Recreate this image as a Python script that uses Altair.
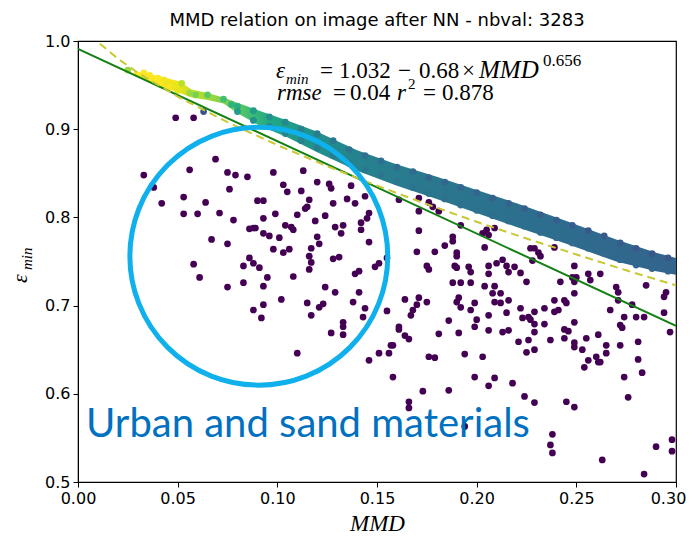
import altair as alt
import pandas as pd

# ---------------- data ----------------
# purple scattered points (MMD, eps_min)
sx = [.033,.049,.058,.069,.056,.038,.075,.079,.085,.098,.113,.076,.103,.105,.112,.120,.126,.127,.137,.042,
      .053,.064,.090,.093,.116,.135,.139,.128,.144,.053,.060,.071,.078,.093,.099,.110,.114,.115,.119,.124,
      .146,.145,.142,.086,.088,.089,.093,.096,.104,.107,.108,.101,.129,.133,.132,.142,.120,.067,.075,.121,
      .117,.098,.103,.106,.146,.116,.117,.116,.128,.131,.151,.149,.058,.083,.086,.088,.091,.061,.075,.083,
      .093,.095,.108,.124,.129,.139,.141,.141,.155,.102,.115,.117,.121,.123,.138,.144,.143,.155,.088,.093,
      .092,.127,.133,.133,.133,.110,.146,.151,.156,.157,.161,.171,.171,.176,.178,.181,.171,.192,.203,.205,
      .209,.206,.188,.188,.184,.179,.170,.190,.190,.204,.227,.229,.231,.232,.239,.228,.249,.175,.176,.189,
      .190,.196,.197,.206,.210,.213,.215,.219,.222,.216,.206,.256,.262,.248,.250,.249,.257,.225,.242,.270,
      .271,.285,.295,.294,.188,.192,.197,.204,.209,.208,.212,.216,.212,.209,.215,.222,.229,.234,.223,.226,
      .227,.239,.239,.244,.245,.249,.241,.249,.244,.246,.244,.267,.271,.278,.274,.280,.284,.294,.297,.272,
      .273,.281,.272,.265,.265,.261,.255,.249,.249,.253,.256,.260,.261,.262,.254,.281,.283,.274,.276,.237,
      .229,.229,.225,.226,.221,.234,.229,.206,.200,.199,.206,.213,.216,.191,.190,.192,.197,.199,.186,.191,
      .181,.194,.203,.176,.179,.166,.164,.161,.161,.158,.167,.168,.170,.171,.164,.175,.199,.209,.206,.218,
      .224,.229,.186,.173,.158,.245,.249,.166,.166,.194,.238,.237,.238,.263,.290,.298,.298,.284]
sy = [.848,.913,.913,.866,.854,.834,.851,.848,.846,.851,.853,.832,.837,.829,.830,.840,.838,.833,.836,.816,
      .823,.817,.819,.819,.820,.821,.816,.816,.824,.804,.804,.805,.797,.799,.804,.803,.810,.812,.796,.802,
      .805,.799,.794,.787,.788,.788,.782,.779,.791,.789,.786,.777,.789,.791,.782,.786,.778,.775,.770,.770,
      .765,.764,.760,.764,.772,.756,.749,.741,.753,.755,.748,.744,.747,.745,.754,.748,.743,.732,.721,.726,
      .722,.732,.733,.721,.715,.736,.739,.715,.754,.707,.703,.689,.698,.702,.704,.697,.687,.694,.695,.701,
      .686,.669,.676,.681,.667,.646,.638,.646,.646,.655,.820,.807,.822,.817,.812,.807,.785,.791,.782,.786,
      .788,.780,.778,.773,.768,.761,.761,.760,.756,.766,.765,.765,.760,.756,.766,.751,.745,.745,.741,.745,
      .743,.744,.738,.745,.748,.752,.745,.744,.737,.738,.736,.736,.736,.732,.732,.727,.729,.727,.727,.721,
      .715,.723,.715,.710,.726,.726,.726,.722,.722,.714,.714,.706,.703,.704,.692,.697,.693,.697,.686,.687,
      .684,.706,.693,.706,.703,.714,.695,.681,.673,.671,.663,.695,.706,.701,.687,.687,.687,.692,.670,.678,
      .675,.659,.655,.655,.646,.667,.663,.658,.653,.650,.638,.642,.636,.636,.630,.639,.624,.619,.596,.661,
      .670,.650,.647,.661,.659,.679,.679,.689,.684,.676,.672,.670,.672,.709,.704,.698,.695,.703,.683,.669,
      .668,.645,.642,.642,.641,.662,.666,.673,.676,.655,.689,.695,.701,.709,.707,.704,.619,.618,.609,.612,
      .597,.590,.604,.603,.619,.591,.585,.591,.584,.563,.554,.542,.533,.525,.540,.548,.535,.509]

# dense band (upper and lower edge)
band_x   = [0.028, 0.035, 0.043, 0.051, 0.057, 0.065, 0.073, 0.080, 0.092, 0.105, 0.120, 0.140, 0.160, 0.180, 0.200, 0.220, 0.245, 0.270, 0.290, 0.300]
band_top = [0.966, 0.963, 0.959, 0.954, 0.945, 0.941, 0.936, 0.930, 0.920, 0.910, 0.897, 0.876, 0.860, 0.846, 0.831, 0.816, 0.796, 0.775, 0.760, 0.754]
band_bot = [0.962, 0.955, 0.947, 0.941, 0.936, 0.933, 0.929, 0.918, 0.903, 0.891, 0.874, 0.853, 0.836, 0.821, 0.805, 0.789, 0.770, 0.750, 0.739, 0.735]

# band points on the edges and the sparse left end (x, y, colour value)
edge_x = [0.080,0.088,0.096,0.104,0.112,0.120,0.128,0.136,0.144,0.152,0.160,0.168,0.176,0.184,0.192,0.200,0.208,0.216,0.224,0.232,0.240,0.248,0.256,0.264,0.272,0.280,0.288,0.296,
          0.080,0.088,0.096,0.104,0.112,0.120,0.128,0.136,0.144,0.152,0.160,0.168,0.176,0.184,0.192,0.200,0.208,0.216,0.224,0.232,0.240,0.248,0.256,0.264,0.272,0.280,0.288,0.296,
          0.025,0.033,0.036,0.040,0.043,0.046,0.049,0.050,0.035,0.041,0.045,0.052,0.056,0.059,0.065,0.073,0.077,0.063]
edge_y = [0.926,0.921,0.914,0.908,0.900,0.895,0.887,0.877,0.870,0.864,0.857,0.852,0.845,0.840,0.834,0.828,0.822,0.816,0.810,0.803,0.797,0.791,0.785,0.779,0.771,0.765,0.759,0.754,
          0.920,0.910,0.903,0.895,0.887,0.879,0.870,0.861,0.854,0.848,0.841,0.834,0.827,0.821,0.814,0.808,0.802,0.796,0.790,0.783,0.777,0.771,0.765,0.759,0.752,0.746,0.742,0.739,
          0.967,0.964,0.961,0.958,0.956,0.952,0.948,0.944,0.958,0.951,0.947,0.952,0.941,0.939,0.939,0.934,0.928,0.920]
edge_c = [0.62,0.55,0.50,0.47,0.44,0.42,0.40,0.38,0.37,0.36,0.35,0.34,0.33,0.33,0.32,0.32,0.31,0.31,0.30,0.30,0.29,0.29,0.28,0.28,0.28,0.27,0.27,0.27,
          0.55,0.50,0.47,0.45,0.43,0.42,0.41,0.40,0.40,0.39,0.39,0.38,0.38,0.37,0.37,0.37,0.36,0.36,0.36,0.35,0.35,0.35,0.34,0.34,0.34,0.33,0.33,0.33,
          0.85,1.00,1.00,1.00,0.98,0.98,0.97,0.96,1.00,1.00,0.99,0.90,0.85,0.80,0.75,0.70,0.65,0.25]

# fitted power curve and linear fit
fit_x = [0.011, 0.02, 0.03, 0.05, 0.075, 0.10, 0.125, 0.15, 0.175, 0.20, 0.225, 0.25, 0.275, 0.30]
fit_y = [0.997, 0.980, 0.964, 0.937, 0.908, 0.882, 0.858, 0.836, 0.815, 0.795, 0.776, 0.758, 0.740, 0.723]
lin_x = [0.0, 0.30]
lin_y = [0.991, 0.677]

x_ticks = [0.00, 0.05, 0.10, 0.15, 0.20, 0.25, 0.30]
y_ticks = [0.5, 0.6, 0.7, 0.8, 0.9, 1.0]

title_text = "MMD relation on image after NN - nbval: 3283"
note_text = "Urban and sand materials"
circle_center = [0.0907, 0.756]

# ---------------- chart ----------------
scat = pd.DataFrame({"x": sx, "y": sy})
band = pd.DataFrame({"x": band_x, "top": band_top, "bot": band_bot})
edges = pd.DataFrame({"x": edge_x, "y": edge_y, "c": edge_c})
fit = pd.DataFrame({"x": fit_x, "y": fit_y})
lin = pd.DataFrame({"x": lin_x, "y": lin_y})
circ = pd.DataFrame({"x": [circle_center[0]], "y": [circle_center[1]]})

xsc = alt.Scale(domain=[0, 0.3], nice=False, zero=False)
ysc = alt.Scale(domain=[0.5, 1.0], nice=False, zero=False)
xax = alt.Axis(values=x_ticks, format=".2f", title="MMD", grid=False, labelFlush=False,
               labelOffset=alt.condition("datum.value >= 0.299", alt.value(-8), alt.value(0)))
yax = alt.Axis(values=y_ticks, format=".1f", title="", grid=False, labelFlush=False)
X = alt.X("x:Q", scale=xsc, axis=xax)
Y = alt.Y("y:Q", scale=ysc, axis=yax)

grad = alt.Gradient(
    gradient="linear", x1=0, x2=1, y1=0, y2=0,
    stops=[alt.GradientStop(color="#fde725", offset=0.0),
           alt.GradientStop(color="#f0e31c", offset=0.08),
           alt.GradientStop(color="#bddf26", offset=0.11),
           alt.GradientStop(color="#7ad151", offset=0.17),
           alt.GradientStop(color="#44bf70", offset=0.21),
           alt.GradientStop(color="#22a884", offset=0.25),
           alt.GradientStop(color="#1f968b", offset=0.31),
           alt.GradientStop(color="#25848e", offset=0.40),
           alt.GradientStop(color="#2a788e", offset=0.53),
           alt.GradientStop(color="#2c6f8e", offset=0.72),
           alt.GradientStop(color="#33648d", offset=1.0)])

band_layer = alt.Chart(band).mark_area(color=grad, opacity=1).encode(
    x=X, y=alt.Y("top:Q", scale=ysc, axis=yax), y2="bot:Q")

edge_layer = alt.Chart(edges).mark_circle(size=45, opacity=1).encode(
    x=X, y=Y, color=alt.Color("c:Q", scale=alt.Scale(scheme="viridis", domain=[0, 1]), legend=None))

scat_layer = alt.Chart(scat).mark_circle(size=45, opacity=1, color="#440154").encode(x=X, y=Y)

lin_layer = alt.Chart(lin).mark_line(color="#138013", strokeWidth=2, clip=True).encode(x=X, y=Y)
fit_layer = alt.Chart(fit).mark_line(color="#c8c832", strokeWidth=2, strokeDash=[8, 5], clip=True).encode(x=X, y=Y)

circle_layer = alt.Chart(circ).mark_point(shape="circle", filled=False, size=66500,
                                          strokeWidth=5, color="#0fb0ec", opacity=1).encode(x=X, y=Y)


def ann(text, px, py, size, style="normal", font="Liberation Serif", color="black", angle=0, align="left"):
    d = pd.DataFrame({"t": [text]})
    kw = dict(align=align, baseline="alphabetic", fontSize=size, fontStyle=style,
              font=font, color=color)
    if angle:
        kw["angle"] = angle
    return alt.Chart(d).mark_text(**kw).encode(
        x=alt.value(px - 78), y=alt.value(py - 41), text="t:N")

eq = [
    ann(title_text, 377, 26, 18, font="DejaVu Sans", align="center"),
    ann("ε", 276, 78, 23, "italic"),
    ann("min", 286, 84, 15, "italic"),
    ann("=", 320, 78, 23),
    ann("1.032", 339, 78, 23),
    ann("−", 398, 78, 23),
    ann("0.68", 419, 78, 23),
    ann("×", 462, 78, 23),
    ann("MMD", 479, 78, 25, "italic"),
    ann("0.656", 543, 66, 17),
    ann("rmse", 277, 100, 23, "italic"),
    ann("=", 333, 100, 23),
    ann("0.04", 350, 100, 23),
    ann("r", 397, 100, 23, "italic"),
    ann("2", 408, 89, 15),
    ann("=", 423, 100, 23),
    ann("0.878", 442, 100, 23),
    ann("ε", 27, 283, 22, "italic", angle=270),
    ann("min", 32, 270, 15, "italic", angle=270),
    ann(note_text, 86, 437, 40, "normal", font="Lato", color="#0070c0"),
]

chart = alt.layer(band_layer, edge_layer, scat_layer, lin_layer, fit_layer, circle_layer, *eq).properties(
    width=598, height=441,
    autosize=alt.AutoSizeParams(type="none"),
    padding={"left": 70, "top": 33, "right": 11, "bottom": 52},
).configure_view(stroke="black", strokeWidth=1.2).configure_axis(
    labelFont="DejaVu Sans", labelFontSize=16, labelColor="black",
    tickColor="black", domainColor="black", tickSize=5, labelPadding=3,
    titleFont="Liberation Serif", titleFontStyle="italic", titleFontSize=23,
    titleFontWeight="normal", titleColor="black", titlePadding=6,
)

chart.save("out.html", embed_options={"renderer": "svg", "actions": False})
